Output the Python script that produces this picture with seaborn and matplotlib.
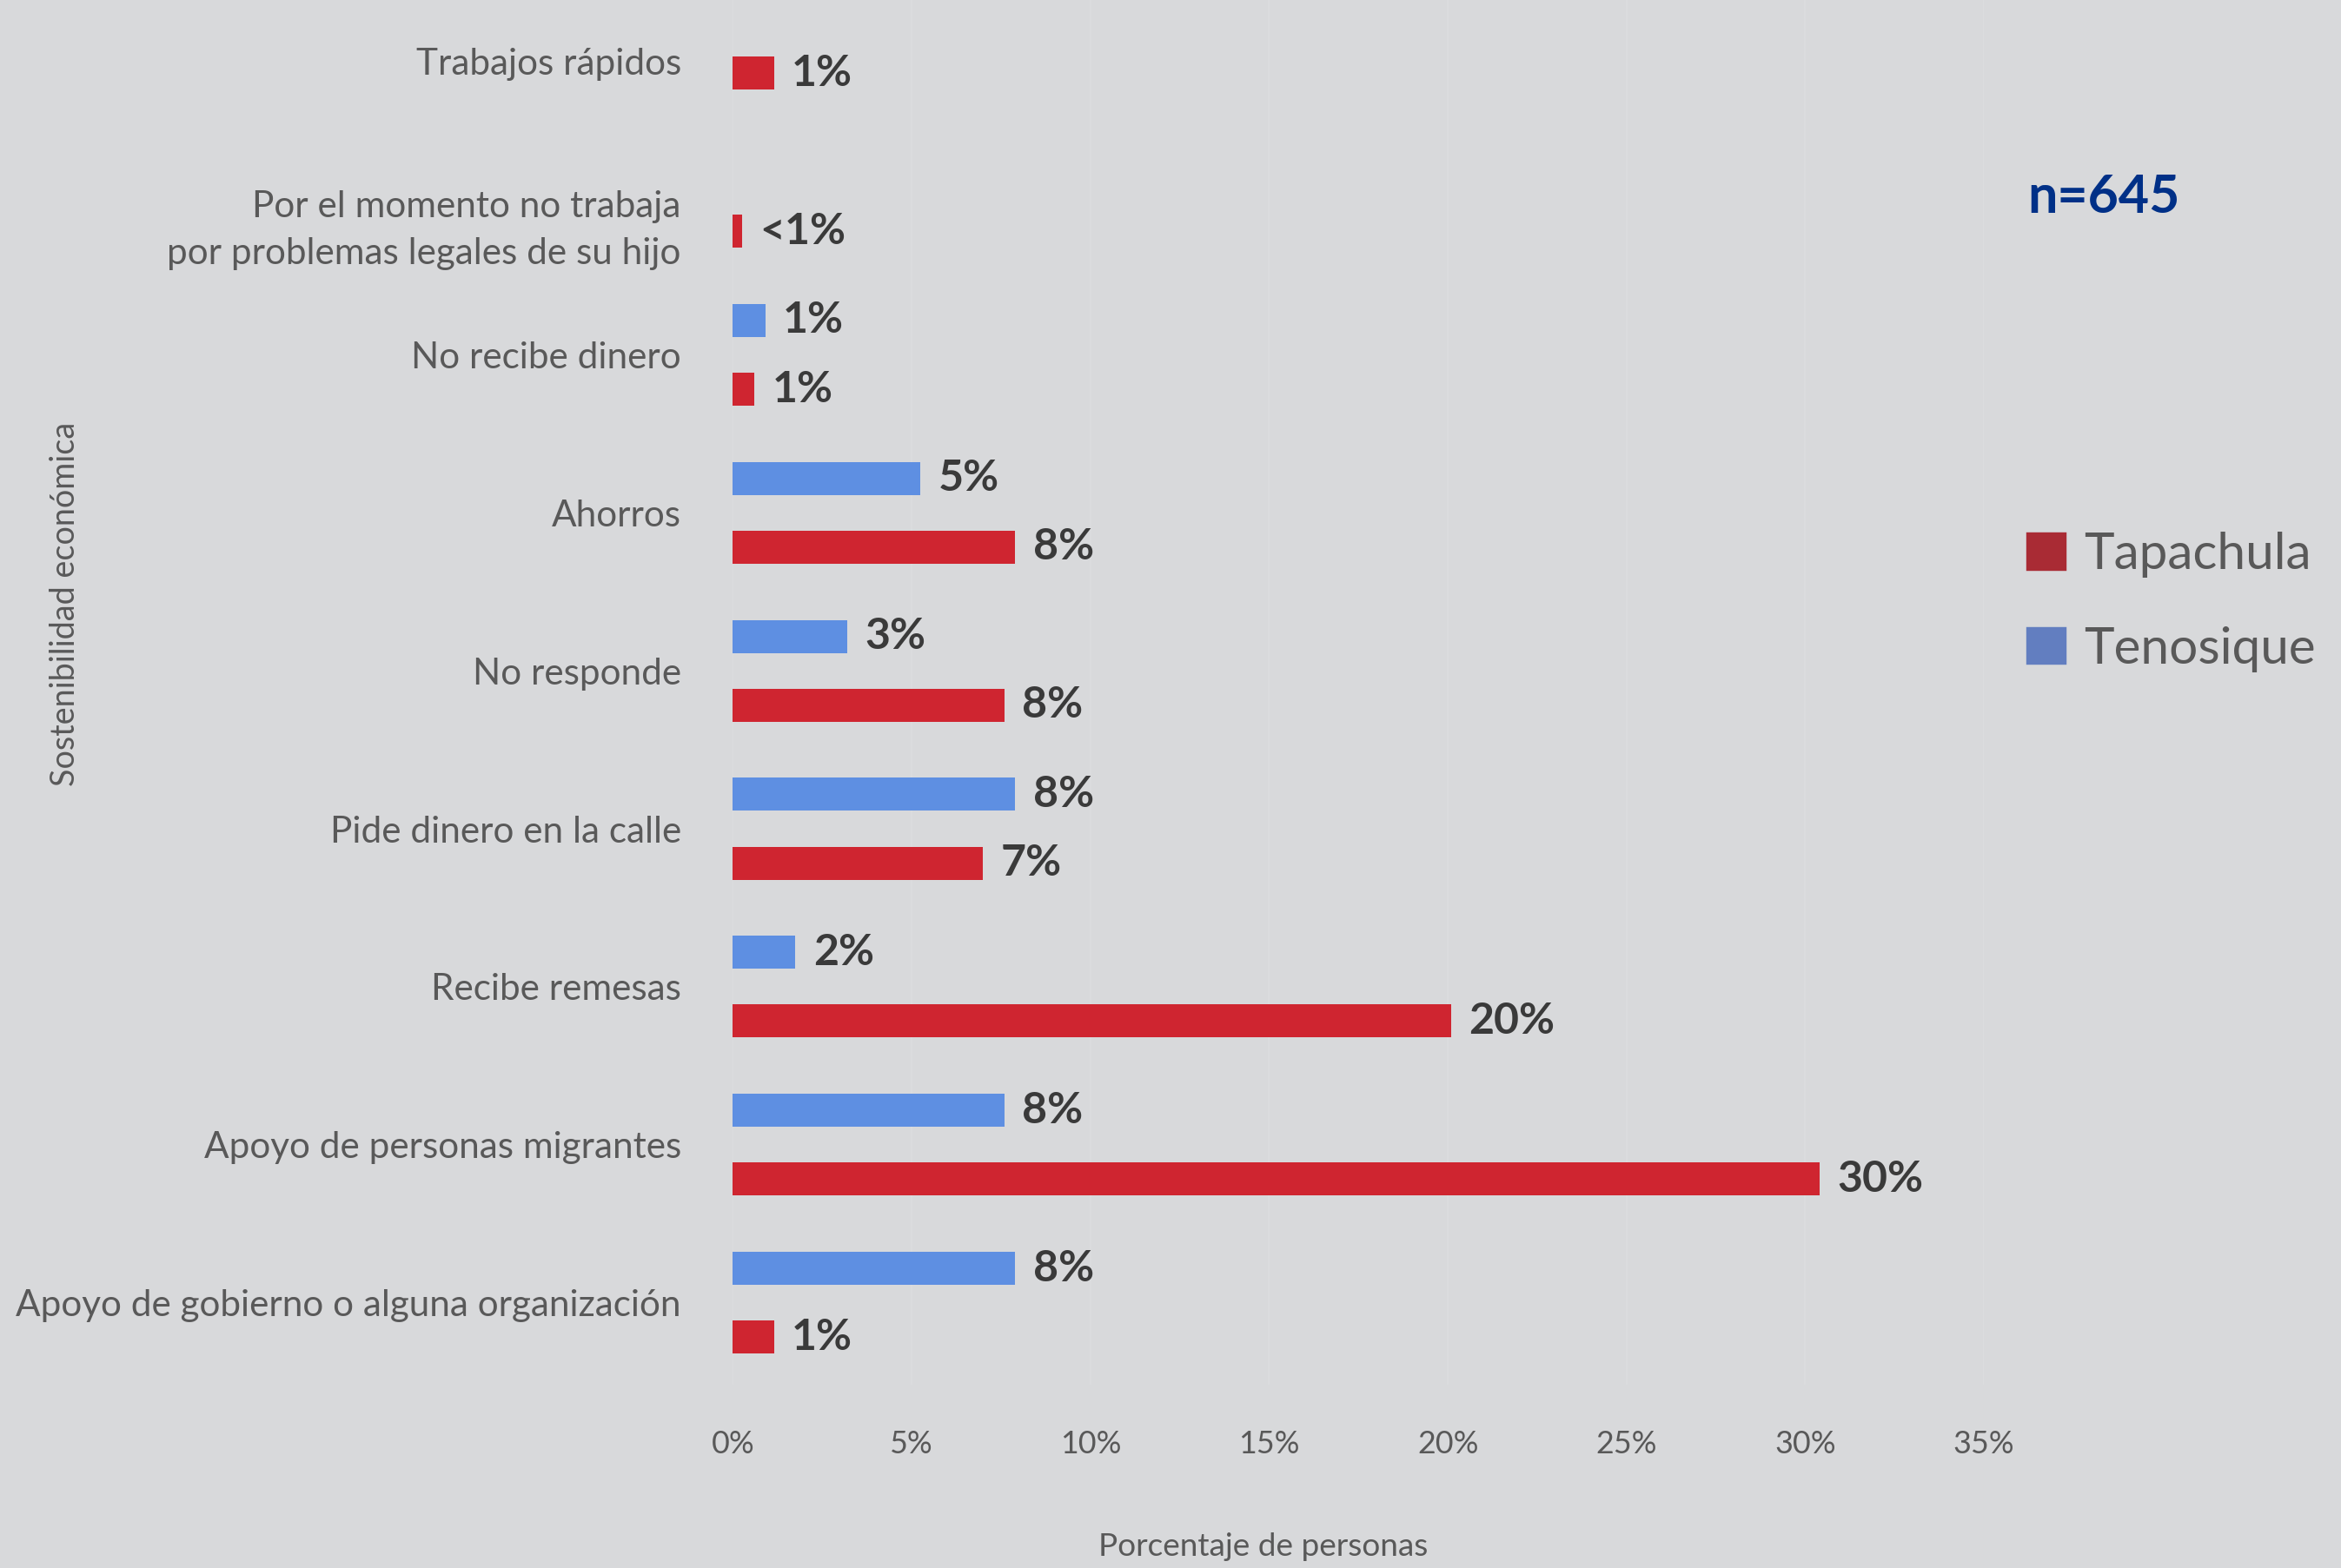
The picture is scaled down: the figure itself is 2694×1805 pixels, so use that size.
import numpy as np
import pandas as pd
import matplotlib
matplotlib.use('Agg')
import matplotlib.pyplot as plt
import seaborn as sns
from matplotlib.patches import Patch

# data (percent of people)
categorias = [
    'Trabajos rápidos',
    'Por el momento no trabaja\npor problemas legales de su hijo',
    'No recibe dinero',
    'Ahorros',
    'No responde',
    'Pide dinero en la calle',
    'Recibe remesas',
    'Apoyo de personas migrantes',
    'Apoyo de gobierno o alguna organización',
]
tapachula = [1.15, 0.25, 0.6, 7.9, 7.6, 7.0, 20.1, 30.4, 1.15]
tenosique = [np.nan, np.nan, 0.9, 5.25, 3.2, 7.9, 1.75, 7.6, 7.9]
tapachula_etiquetas = ['1%', '<1%', '1%', '8%', '8%', '7%', '20%', '30%', '1%']
tenosique_etiquetas = [None, None, '1%', '5%', '3%', '8%', '2%', '8%', '8%']
x_ticks = [0, 5, 10, 15, 20, 25, 30, 35]

bg = '#D8D9DB'
rojo = '#CF2530'
azul = '#5E8FE2'
rojo_leyenda = '#A92B34'
azul_leyenda = '#627EC0'
gris = '#595959'

df = pd.concat([
    pd.DataFrame({'categoria': categorias, 'valor': tenosique,
                  'etiqueta': tenosique_etiquetas, 'ciudad': 'Tenosique'}),
    pd.DataFrame({'categoria': categorias, 'valor': tapachula,
                  'etiqueta': tapachula_etiquetas, 'ciudad': 'Tapachula'}),
])

sns.set_style('white')
plt.rcParams['font.family'] = ['Lato', 'DejaVu Sans']

fig = plt.figure(figsize=(2694 / 172, 1805 / 172), dpi=172, facecolor=bg)
ax = fig.add_axes([0.3131, 0.117, 0.5344, 0.883])
ax.set_facecolor(bg)

hue_order = ['Tenosique', 'Tapachula']
sns.barplot(data=df.dropna(subset=['valor']), y='categoria', x='valor',
            hue='ciudad', hue_order=hue_order, order=categorias,
            palette={'Tenosique': azul, 'Tapachula': rojo},
            orient='h', width=0.87, gap=0.52, saturation=1, linewidth=0,
            errorbar=None, legend=False, ax=ax)

# value labels at the end of each bar
for cont, ciudad in zip(ax.containers, hue_order):
    sub = df[(df['ciudad'] == ciudad)].dropna(subset=['valor'])
    ax.bar_label(cont, labels=list(sub['etiqueta']), padding=8.5,
                 fontsize=21, fontweight='bold', color='#3A3A3A')

ax.set_xlim(0, 35)
ax.set_ylim(8.518, -0.246)
ax.set_xticks(x_ticks)
ax.set_xticklabels([f'{t}%' for t in x_ticks], fontsize=15, color=gris)

# the two top labels sit a bit lower than their category centre in the original
desplaz = [0.14, 0.15, 0, 0, 0, 0, 0, 0, 0]
ax.set_yticks(np.arange(len(categorias)) + np.array(desplaz))
ax.set_yticklabels(categorias, fontsize=17.7, color=gris, linespacing=1.5)
ax.tick_params(axis='both', length=0)
ax.tick_params(axis='x', pad=22)
ax.tick_params(axis='y', pad=25)
ax.set_xlabel('')
ax.set_ylabel('')

ax.grid(axis='x', color='#DBDCDE', linewidth=1)
ax.grid(axis='y', visible=False)
ax.set_axisbelow(True)
for s in ax.spines.values():
    s.set_visible(False)

fig.text(0.028, 0.615, 'Sostenibilidad económica', rotation=90,
         ha='center', va='center', fontsize=15.8, color=gris)
fig.text(0.5395, 0.0133, 'Porcentaje de personas',
         ha='center', va='center', fontsize=15.5, color=gris)
fig.text(0.866, 0.874, 'n=645', ha='left', va='center',
         fontsize=25.5, fontweight='bold', color='#003087')

fig.legend(handles=[Patch(color=rojo_leyenda), Patch(color=azul_leyenda)],
           labels=['Tapachula', 'Tenosique'], loc='center left',
           bbox_to_anchor=(0.866, 0.616), frameon=False, fontsize=24.5,
           handlelength=0.75, handleheight=0.72, handletextpad=0.36,
           labelspacing=0.95, borderpad=0, borderaxespad=0, labelcolor=gris)

fig.savefig('out.png', dpi=172, facecolor=bg)
